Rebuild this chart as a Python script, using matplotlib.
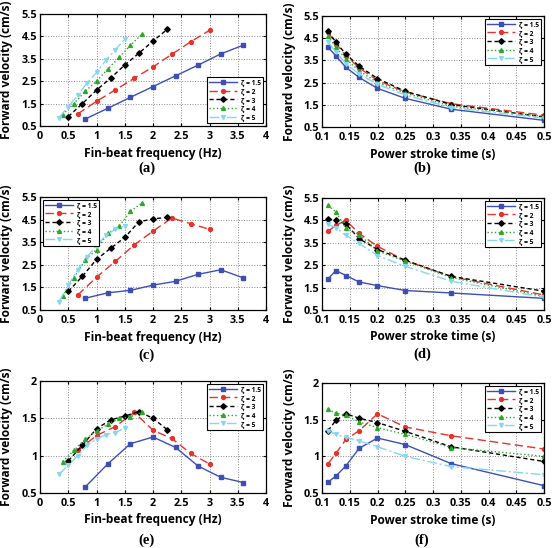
import numpy as np
import matplotlib
matplotlib.use("Agg")
import matplotlib.pyplot as plt
from matplotlib.ticker import FuncFormatter

plt.rcParams['font.family'] = ['Open Sans', 'DejaVu Sans']
plt.rcParams['font.weight'] = 'bold'

# ratios and labels
zetas = ["1.5", "2", "3", "4", "5"]
# power stroke times (s)
t_pow = [0.111, 0.125, 0.143, 0.167, 0.2, 0.25, 0.333, 0.5]
# fin-beat frequencies (Hz) for each zeta, low to high
f_z15 = [0.8, 1.2, 1.6, 2.0, 2.4, 2.8, 3.2, 3.6]
f_z2 = [0.667, 1.0, 1.333, 1.667, 2.0, 2.333, 2.667, 3.0]
f_z3 = [0.5, 0.75, 1.0, 1.25, 1.5, 1.75, 2.0, 2.25]
f_z4 = [0.4, 0.6, 0.8, 1.0, 1.2, 1.4, 1.6, 1.8]
f_z5 = [0.333, 0.5, 0.667, 0.833, 1.0, 1.167, 1.333, 1.5]
freqs = [f_z15, f_z2, f_z3, f_z4, f_z5]

# (a) velocity vs frequency
v_a = [[0.81, 1.29, 1.78, 2.26, 2.74, 3.22, 3.72, 4.11],
       [1.04, 1.6, 2.11, 2.63, 3.14, 3.7, 4.26, 4.77],
       [0.92, 1.5, 2.1, 2.64, 3.22, 3.75, 4.29, 4.81],
       [1.01, 1.5, 2.05, 2.5, 3.04, 3.56, 4.1, 4.59],
       [0.86, 1.37, 1.87, 2.42, 2.89, 3.43, 3.9, 4.38]]
# (b) velocity vs power stroke time
v_b = [[4.09, 3.7, 3.19, 2.73, 2.24, 1.79, 1.3, 0.8],
       [4.77, 4.26, 3.72, 3.16, 2.6, 2.08, 1.55, 1.03],
       [4.82, 4.32, 3.78, 3.24, 2.68, 2.11, 1.51, 0.95],
       [4.59, 4.09, 3.57, 3.03, 2.5, 2.03, 1.43, 0.98],
       [4.33, 3.87, 3.36, 2.88, 2.42, 1.94, 1.37, 0.9]]
# (c)
v_c = [[1.02, 1.26, 1.37, 1.6, 1.77, 2.08, 2.28, 1.92],
       [1.16, 1.95, 2.65, 3.38, 3.99, 4.57, 4.32, 4.07],
       [1.32, 1.99, 2.74, 3.23, 3.71, 4.4, 4.53, 4.6],
       [1.1, 1.93, 2.71, 3.17, 3.89, 4.2, 4.87, 5.22],
       [0.86, 1.6, 2.28, 2.85, 3.35, 3.8, 4.07, 4.2]]
# (d)
v_d = [[1.9, 2.26, 2.04, 1.75, 1.59, 1.37, 1.26, 1.02],
       [4.02, 4.28, 4.5, 3.92, 3.34, 2.71, 1.99, 1.17],
       [4.57, 4.5, 4.34, 3.68, 3.2, 2.72, 2.0, 1.34],
       [5.17, 4.87, 4.16, 3.87, 3.14, 2.68, 1.95, 1.11],
       [4.32, 4.17, 3.83, 3.47, 2.93, 2.45, 1.78, 1.07]]
# (e)
v_e = [[0.58, 0.89, 1.16, 1.25, 1.11, 0.86, 0.71, 0.64],
       [1.07, 1.27, 1.39, 1.58, 1.34, 1.23, 1.03, 0.89],
       [0.93, 1.14, 1.36, 1.48, 1.53, 1.59, 1.5, 1.35],
       [0.92, 1.07, 1.22, 1.33, 1.42, 1.5, 1.52, 1.58],
       [0.75, 0.87, 1.0, 1.14, 1.22, 1.28, 1.31, 1.37]]
# (f)
v_f = [[0.65, 0.73, 0.87, 1.11, 1.25, 1.16, 0.9, 0.6],
       [0.9, 1.04, 1.23, 1.35, 1.58, 1.4, 1.28, 1.1],
       [1.35, 1.49, 1.58, 1.52, 1.46, 1.34, 1.13, 0.93],
       [1.64, 1.59, 1.56, 1.47, 1.39, 1.3, 1.12, 1.0],
       [1.35, 1.3, 1.26, 1.21, 1.13, 1.0, 0.86, 0.75]]

colors = ['#3d4fb3', '#e8322a', '#000000', '#2ca62c', '#86d6f2']
styles = ['-', (0, (6, 3)), (0, (3, 2)), ':', (0, (7, 2, 1.5, 2))]
markers = ['s', 'o', 'D', '^', 'v']

W, H = 553, 548
fig = plt.figure(figsize=(W / 100, H / 100), dpi=100)

# axes boxes in pixels: left, top, right, bottom
boxes = {
    'a': (40, 14, 266, 126), 'b': (322, 16, 544, 127),
    'c': (40, 197, 266, 310), 'd': (322, 198, 544, 310),
    'e': (40, 381, 266, 493), 'f': (322, 383, 544, 493),
}
caps_y = {'a': 168, 'b': 168, 'c': 355, 'd': 354, 'e': 540, 'f': 540}
legloc = {'a': 'lower right', 'b': 'upper right', 'c': 'upper left',
          'd': 'upper right', 'e': 'upper right', 'f': 'upper right'}
data = {'a': v_a, 'b': v_b, 'c': v_c, 'd': v_d, 'e': v_e, 'f': v_f}

gfmt = FuncFormatter(lambda v, p: ('%g' % round(v, 3)))

for key, (l, t, r, b) in boxes.items():
    ax = fig.add_axes([l / W, 1 - b / H, (r - l) / W, (b - t) / H])
    is_time = key in 'bdf'
    for i in range(5):
        xs = t_pow if is_time else freqs[i]
        ax.plot(xs, data[key][i], color=colors[i], ls=styles[i], lw=1.0,
                marker=markers[i], ms=2.8, mec=colors[i], mfc=colors[i],
                label='ζ = ' + zetas[i])
    if is_time:
        ax.set_xlim(0.1, 0.5)
        ax.set_xticks(np.arange(0.1, 0.501, 0.05))
        ax.set_xlabel('Power stroke time (s)', fontsize=8.6, fontweight='bold')
    else:
        ax.set_xlim(0, 4)
        ax.set_xticks(np.arange(0, 4.01, 0.5))
        ax.set_xlabel('Fin-beat frequency (Hz)', fontsize=8.6, fontweight='bold')
    if key in 'ef':
        ax.set_ylim(0.5, 2)
        ax.set_yticks([0.5, 1, 1.5, 2])
    else:
        ax.set_ylim(0.5, 5.5)
        ax.set_yticks([0.5, 1.5, 2.5, 3.5, 4.5, 5.5])
    ax.xaxis.set_major_formatter(gfmt)
    ax.yaxis.set_major_formatter(gfmt)
    ax.set_ylabel('Forward velocity (cm/s)', fontsize=8.6, fontweight='bold')
    ax.grid(True, ls=':', color='#888888', lw=0.7)
    ax.tick_params(direction='in', top=True, right=True, labelsize=7.8,
                   length=2.5)
    ax.tick_params(axis='x', pad=3.5)
    ax.tick_params(axis='y', pad=2)
    for lab in ax.get_xticklabels() + ax.get_yticklabels():
        lab.set_fontweight('bold')
    for s in ax.spines.values():
        s.set_linewidth(0.9)
    ax.yaxis.set_label_coords(-33 / (r - l), 0.5)
    ax.yaxis.label.set_va('center')
    ax.xaxis.set_label_coords(0.5, -27 / (b - t))
    ax.xaxis.label.set_va('center')
    leg = ax.legend(loc=legloc[key], fontsize=4.8, handlelength=4.2,
                    labelspacing=0.25, borderpad=0.35, handletextpad=0.6,
                    fancybox=False, edgecolor='black', framealpha=1,
                    borderaxespad=0.4)
    leg.get_frame().set_linewidth(0.8)
    for txt in leg.get_texts():
        txt.set_fontweight('bold')
    cx = 147 if key in 'ace' else 422
    fig.text(cx / W, 1 - caps_y[key] / H, '(%s)' % key, ha='center', va='center',
             fontsize=10.5, fontweight='bold', family='Liberation Serif')

fig.savefig('out.png', dpi=100)
